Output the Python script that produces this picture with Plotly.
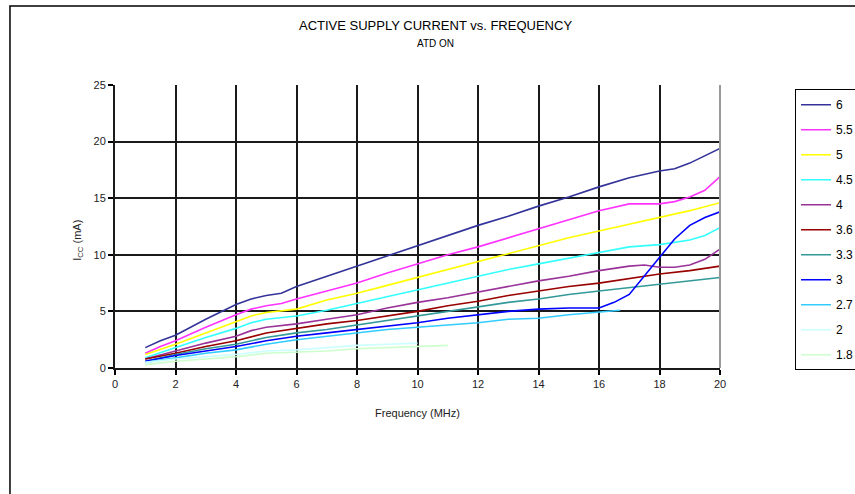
import plotly.graph_objects as go

# ---- data ----
series_names = ["6", "5.5", "5", "4.5", "4", "3.6", "3.3", "3", "2.7", "2", "1.8"]
series_colors = ["#333399", "#FF33FF", "#FFFF00", "#33FFFF", "#993399", "#990000",
                 "#339999", "#0000FF", "#33CCFF", "#CCFFFF", "#CCFFCC"]

s6_x = [1, 1.5, 2, 3, 4, 4.5, 5, 5.5, 6, 7, 8, 9, 10, 11, 12, 13, 14, 15, 16, 17, 18, 18.5, 19, 20]
s6_y = [1.8, 2.4, 2.9, 4.3, 5.6, 6.1, 6.4, 6.6, 7.2, 8.1, 9.0, 9.9, 10.8, 11.7, 12.6, 13.4, 14.3, 15.1,
        16.0, 16.8, 17.4, 17.6, 18.1, 19.4]

s55_x = [1, 1.5, 2, 3, 4, 4.5, 5, 5.5, 6, 7, 8, 9, 10, 11, 12, 13, 14, 15, 16, 17, 18, 18.5, 19, 19.5, 20]
s55_y = [1.3, 1.9, 2.4, 3.6, 4.7, 5.2, 5.5, 5.7, 6.1, 6.8, 7.5, 8.4, 9.2, 10.0, 10.7, 11.5, 12.3, 13.1,
         13.9, 14.5, 14.5, 14.7, 15.1, 15.7, 16.9]

s5_x = [1, 2, 3, 4, 4.5, 5, 6, 7, 8, 9, 10, 11, 12, 13, 14, 15, 16, 17, 18, 19, 20]
s5_y = [1.2, 2.1, 3.1, 4.1, 4.6, 4.9, 5.2, 6.0, 6.6, 7.3, 8.0, 8.7, 9.4, 10.1, 10.8, 11.5, 12.1, 12.7,
        13.3, 13.9, 14.6]

s45_x = [1, 2, 3, 4, 4.5, 5, 6, 7, 8, 9, 10, 11, 12, 13, 14, 15, 16, 17, 18, 19, 19.5, 20]
s45_y = [0.9, 1.8, 2.7, 3.5, 4.0, 4.3, 4.6, 5.1, 5.7, 6.3, 6.9, 7.5, 8.1, 8.7, 9.2, 9.7, 10.2, 10.7,
         10.9, 11.3, 11.7, 12.4]

s4_x = [1, 2, 3, 4, 4.5, 5, 6, 7, 8, 9, 10, 11, 12, 13, 14, 15, 16, 17, 17.5, 18, 18.5, 19, 19.5, 20]
s4_y = [0.8, 1.5, 2.2, 2.8, 3.3, 3.6, 3.9, 4.3, 4.7, 5.3, 5.8, 6.2, 6.7, 7.2, 7.7, 8.1, 8.6, 9.0,
        9.1, 8.9, 8.9, 9.1, 9.6, 10.5]

s36_x = [1, 2, 3, 4, 5, 6, 7, 8, 9, 10, 11, 12, 13, 14, 15, 16, 17, 18, 19, 20]
s36_y = [0.8, 1.3, 1.9, 2.4, 3.1, 3.5, 3.9, 4.2, 4.6, 5.0, 5.5, 5.9, 6.4, 6.8, 7.2, 7.5, 7.9, 8.3, 8.6, 9.0]

s33_x = [1, 2, 3, 4, 5, 6, 7, 8, 9, 10, 11, 12, 13, 14, 15, 16, 17, 18, 19, 20]
s33_y = [0.6, 1.2, 1.7, 2.1, 2.7, 3.1, 3.4, 3.8, 4.2, 4.6, 5.0, 5.4, 5.8, 6.1, 6.5, 6.8, 7.1, 7.4, 7.7, 8.0]

s3_x = [1, 2, 3, 4, 5, 6, 7, 8, 9, 10, 11, 12, 13, 14, 15, 16, 16.5, 17, 17.5, 18, 18.5, 19, 19.5, 20]
s3_y = [0.6, 1.1, 1.5, 1.9, 2.4, 2.8, 3.1, 3.4, 3.7, 4.0, 4.4, 4.7, 5.0, 5.2, 5.3, 5.3, 5.8, 6.5,
        8.1, 9.8, 11.4, 12.6, 13.3, 13.8]

s27_x = [1, 2, 3, 4, 5, 6, 7, 8, 9, 10, 11, 12, 13, 14, 15, 16, 16.7]
s27_y = [0.5, 0.9, 1.3, 1.6, 2.1, 2.5, 2.8, 3.1, 3.4, 3.6, 3.8, 4.0, 4.3, 4.4, 4.7, 4.9, 5.1]

s2_x = [1, 2, 3, 4, 5, 6, 7, 8, 9, 10]
s2_y = [0.5, 0.8, 1.0, 1.2, 1.5, 1.6, 1.8, 2.0, 2.1, 2.2]

s18_x = [1, 2, 3, 4, 5, 6, 7, 8, 9, 10, 11]
s18_y = [0.3, 0.6, 0.8, 1.0, 1.3, 1.4, 1.5, 1.7, 1.8, 1.9, 2.0]

x_ticks = [0, 2, 4, 6, 8, 10, 12, 14, 16, 18, 20]
y_ticks = [0, 5, 10, 15, 20, 25]

all_x = [s6_x, s55_x, s5_x, s45_x, s4_x, s36_x, s33_x, s3_x, s27_x, s2_x, s18_x]
all_y = [s6_y, s55_y, s5_y, s45_y, s4_y, s36_y, s33_y, s3_y, s27_y, s2_y, s18_y]

FONT = "Liberation Sans, Arial, sans-serif"

fig = go.Figure()
for name, col, xs, ys in zip(series_names, series_colors, all_x, all_y):
    fig.add_trace(go.Scatter(x=xs, y=ys, mode="lines", name=name, legendgroup=name,
                             line=dict(color=col, width=1.6)))

fig.update_layout(
    width=855, height=494,
    margin=dict(l=115, r=135, t=85, b=126, autoexpand=False),
    paper_bgcolor="white", plot_bgcolor="white",
    font=dict(family=FONT, size=11, color="#222222"),
    showlegend=True,
    legend=dict(x=1.124, y=0.985, xanchor="left", yanchor="top",
                bordercolor="black", borderwidth=1, bgcolor="white",
                font=dict(family=FONT, size=12, color="black"),
                tracegroupgap=6, itemwidth=30),
    xaxis=dict(range=[0, 20], tickvals=x_ticks, ticktext=[str(v) for v in x_ticks],
               showgrid=True, gridcolor="#1a1a1a", gridwidth=2,
               showline=True, linecolor="#1a1a1a", linewidth=2,
               ticks="outside", ticklen=5, tickwidth=1.5, tickcolor="black", zeroline=False,
               automargin=False,
               tickfont=dict(size=11, color="#222222"),
               title=dict(text="Frequency (MHz)", font=dict(size=11, color="#222222"), standoff=20)),
    yaxis=dict(range=[0, 25], tickvals=y_ticks, ticktext=[str(v) for v in y_ticks],
               showgrid=True, gridcolor="#1a1a1a", gridwidth=2,
               showline=True, linecolor="#1a1a1a", linewidth=2,
               ticks="outside", ticklen=5, tickwidth=1.5, tickcolor="black", zeroline=False,
               automargin=False,
               tickfont=dict(size=11, color="#222222")),
    annotations=[
        dict(text="ACTIVE SUPPLY CURRENT vs. FREQUENCY", xref="paper", yref="paper",
             x=0.53, y=1.212, showarrow=False, font=dict(family=FONT, size=13, color="black"),
             xanchor="center", yanchor="middle"),
        dict(text="ATD ON", xref="paper", yref="paper",
             x=0.53, y=1.145, showarrow=False, font=dict(family=FONT, size=10, color="black"),
             xanchor="center", yanchor="middle"),
        dict(text="I<sub>CC</sub> (mA)", xref="paper", yref="paper",
             x=-0.0617, y=0.452, textangle=-90, showarrow=False,
             font=dict(family=FONT, size=11, color="#222222"),
             xanchor="center", yanchor="middle"),
    ],
    shapes=[
        # outer chart frame (left and top edges visible, rest runs off the canvas)
        dict(type="rect", xref="paper", yref="paper", x0=-0.1736, x1=1.4, y0=1.279, y1=-0.6,
             line=dict(color="black", width=1.5), fillcolor="rgba(0,0,0,0)", layer="above"),
        # right plot border in grey
        dict(type="line", xref="paper", yref="paper", x0=1, x1=1, y0=0, y1=1,
             line=dict(color="#999999", width=2)),
    ],
)

fig.write_html("out.html", config={"displayModeBar": False},
               post_script="document.body.style.margin='0px';")
